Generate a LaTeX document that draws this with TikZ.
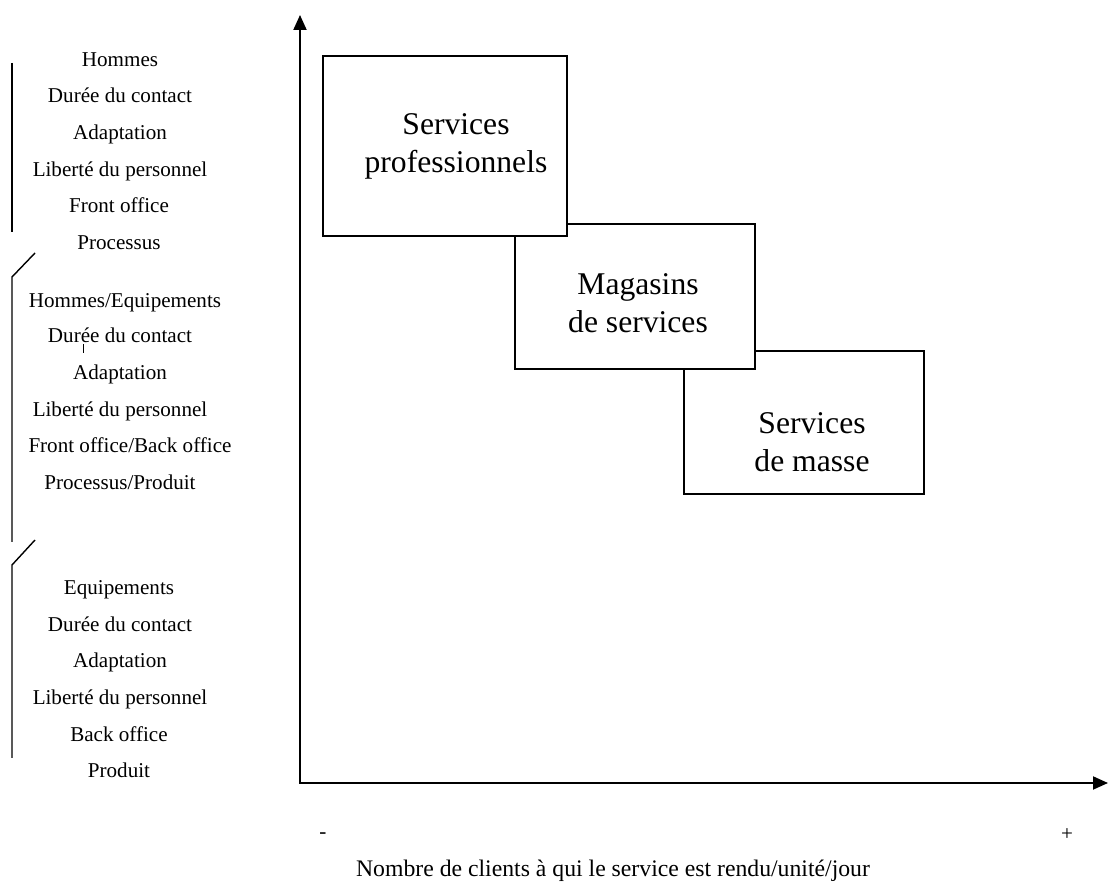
\documentclass[tikz,border=0pt]{standalone}
\usepackage{fontspec}
\setmainfont{Liberation Serif}
\usepackage{xcolor}
\usepackage{tikz}
\usetikzlibrary{arrows.meta, positioning}

\begin{document}
\begin{tikzpicture}[
    axis/.style={line width=1.1pt, line join=miter, {Triangle[length=0.3cm, width=0.26cm]}-{Triangle[length=0.3cm, width=0.26cm]}},
    zone/.style={rectangle, draw, fill=white, line width=1pt, inner sep=0pt},
    zonetext/.style={align=center, font=\fontsize{18}{21.6}\selectfont, inner sep=0pt},
    crit/.style={anchor=base, font=\fontsize{12}{14}\selectfont, inner sep=0pt},
    bracket/.style={line width=0.8pt}
]
    \useasboundingbox (0,0) rectangle (22.2,17.82);

    % axes
    \coordinate (origin) at (6.0, 2.16);
    \coordinate (ytip) at (6.0, 17.52);
    \coordinate (xtip) at (22.16, 2.16);
    \draw[axis] (ytip) -- (origin) -- (xtip);

    \node[font=\fontsize{12}{14}\selectfont] (minus) at (6.46, 1.1) {-};
    \node[font=\fontsize{12}{14}\selectfont] (plus) at (21.34, 1.13) {+};
    \node[font=\fontsize{13.5}{16}\selectfont] (xlabel) at (12.26, 0.4) {Nombre de clients à qui le service est rendu/unité/jour};

    % zones
    \node[zone, minimum width=4.8cm, minimum height=2.86cm] (mass) at (16.08, 9.37) {};
    \node[zone, minimum width=4.8cm, minimum height=2.9cm] (shop) at (12.7, 11.89) {};
    \node[zone, minimum width=4.88cm, minimum height=3.6cm] (pro) at (8.9, 14.9) {};

    \node[zonetext] (protext) at (9.12, 14.9) {Services\\professionnels};
    \node[zonetext] (shoptext) at (12.76, 11.76) {Magasins\\de services};
    \node[zonetext] (masstext) at (16.24, 8.98) {Services\\de masse};

    % criteria
    \node[crit] (h1) at (2.4, 16.48) {Hommes};
    \node[crit] (d1) at (2.4, 15.76) {Durée du contact};
    \node[crit] (a1) at (2.4, 15.02) {Adaptation};
    \node[crit] (l1) at (2.4, 14.28) {Liberté du personnel};
    \node[crit] (f1) at (2.38, 13.56) {Front office};
    \node[crit] (p1) at (2.38, 12.82) {Processus};

    \node[crit] (h2) at (2.5, 11.66) {Hommes/Equipements};
    \node[crit] (d2) at (2.4, 10.96) {Durée du contact};
    \node[crit] (a2) at (2.4, 10.22) {Adaptation};
    \node[crit] (l2) at (2.4, 9.48) {Liberté du personnel};
    \node[crit] (f2) at (2.6, 8.76) {Front office/Back office};
    \node[crit] (p2) at (2.4, 8.02) {Processus/Produit};

    \node[crit] (h3) at (2.38, 5.92) {Equipements};
    \node[crit] (d3) at (2.4, 5.18) {Durée du contact};
    \node[crit] (a3) at (2.4, 4.46) {Adaptation};
    \node[crit] (l3) at (2.4, 3.72) {Liberté du personnel};
    \node[crit] (f3) at (2.38, 2.98) {Back office};
    \node[crit] (p3) at (2.38, 2.26) {Produit};

    \draw[line width=0.5pt] (1.66, 10.94) -- (1.66, 10.76);

    % brackets
    \draw[bracket] (0.24, 16.56) -- (0.24, 13.18);
    \draw[bracket] (0.7, 12.76) -- (0.24, 12.28) -- (0.24, 6.98);
    \draw[bracket] (0.7, 7.02) -- (0.24, 6.52) -- (0.24, 2.66);
\end{tikzpicture}
\end{document}
